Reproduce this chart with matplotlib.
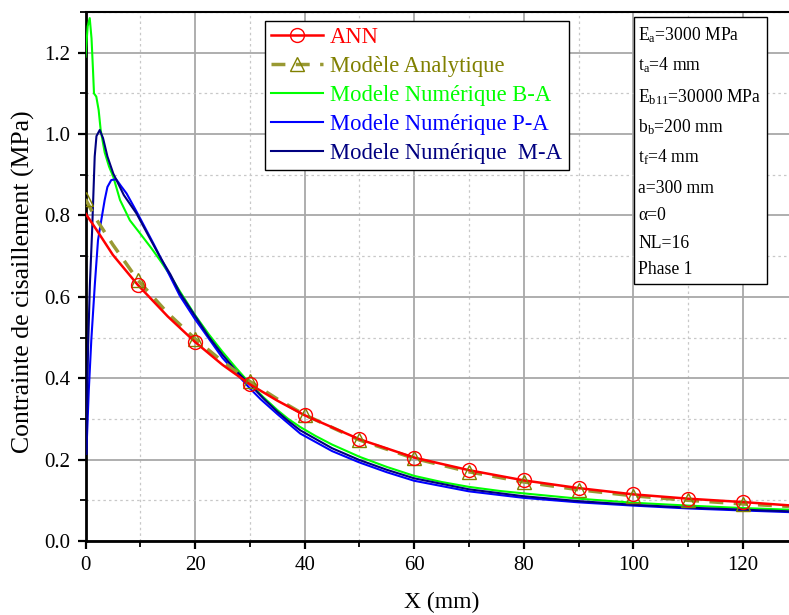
import matplotlib
matplotlib.use("Agg")
import matplotlib.pyplot as plt
from matplotlib.ticker import MultipleLocator, FormatStrFormatter
from matplotlib.lines import Line2D
from matplotlib.patches import Rectangle

plt.rcParams['font.family'] = ['Liberation Serif', 'DejaVu Serif']
plt.rcParams['mathtext.fontset'] = 'custom'
plt.rcParams['mathtext.rm'] = 'Liberation Serif'
plt.rcParams['mathtext.it'] = 'Liberation Serif:italic'

# ---- data -------------------------------------------------------------
ann_x = [0, 2, 5, 9.5, 15, 20, 25, 30, 35, 40, 50, 60, 70, 80, 90, 100, 110, 120, 128.4]
ann_y = [0.805, 0.765, 0.703, 0.630, 0.552, 0.489, 0.433, 0.385, 0.345, 0.309, 0.250,
         0.205, 0.174, 0.149, 0.130, 0.1146, 0.104, 0.0957, 0.0876]
ann_marker_x = [9.5, 20, 30, 40, 50, 60, 70, 80, 90, 100, 110, 120]

ana_x = [0, 2, 5, 9.5, 15, 20, 25, 30, 35, 40, 50, 60, 70, 80, 90, 100, 110, 120, 128.4]
ana_y = [0.84, 0.79, 0.728, 0.642, 0.560, 0.497, 0.441, 0.392, 0.349, 0.310, 0.248,
         0.203, 0.170, 0.145, 0.126, 0.111, 0.100, 0.091, 0.085]
ana_marker_x = [0, 9.5, 20, 30, 40, 50, 60, 70, 80, 90, 100, 110, 120]

ba_x = [0, 0.4, 0.77, 1.1, 1.37, 1.55, 1.97, 2.4, 2.77, 3.5, 4.3, 5.07, 6.3, 8.1, 9.95,
        12, 13.6, 15.5, 17.2, 20, 22.5, 25, 27.5, 30, 32.5, 35, 37, 39.2, 42, 45, 50,
        55, 60, 65, 70, 75.6, 80, 90, 100, 110, 120, 128.4]
ba_y = [1.19, 1.265, 1.285, 1.235, 1.157, 1.10, 1.092, 1.059, 1.01, 0.955, 0.92, 0.895,
        0.838, 0.788, 0.756, 0.72, 0.69, 0.652, 0.614, 0.555, 0.508, 0.465, 0.425, 0.387,
        0.353, 0.322, 0.300, 0.280, 0.258, 0.237, 0.207, 0.182, 0.160, 0.145, 0.133,
        0.123, 0.117, 0.104, 0.094, 0.087, 0.081, 0.077]

pa_x = [0.15, 0.6, 1.06, 1.7, 2.28, 2.9, 3.5, 4.0, 4.7, 5.6, 6.5, 7.5, 9.3, 12.4, 15,
        17.2, 20, 25, 30, 32, 35, 39.2, 45, 50, 55, 60, 70, 75.6, 80, 90, 100, 110,
        120, 128.4]
pa_y = [0.215, 0.37, 0.494, 0.63, 0.739, 0.79, 0.838, 0.87, 0.887, 0.889, 0.872, 0.854,
        0.81, 0.731, 0.662, 0.603, 0.545, 0.450, 0.375, 0.348, 0.312, 0.264, 0.221,
        0.193, 0.169, 0.148, 0.122, 0.113, 0.106, 0.095, 0.087, 0.080, 0.075, 0.071]

ma_x = [0.15, 0.46, 0.8, 1.2, 1.68, 2.0, 2.6, 3.2, 4.0, 5.07, 7, 9.3, 11.5, 13.6, 15.5,
        17.2, 20, 22.5, 25, 27.5, 30, 32.5, 35, 37, 39.2, 45, 50, 55, 60, 70, 80, 90,
        100, 110, 120, 128.4]
ma_y = [0.215, 0.47, 0.63, 0.76, 0.945, 0.995, 1.01, 0.99, 0.945, 0.903, 0.85, 0.805,
        0.75, 0.698, 0.655, 0.610, 0.553, 0.502, 0.458, 0.418, 0.385, 0.350, 0.318,
        0.295, 0.272, 0.228, 0.199, 0.175, 0.154, 0.127, 0.110, 0.098, 0.089, 0.082,
        0.077, 0.073]

labels = ["ANN", "Modèle Analytique", "Modele Numérique B-A",
          "Modele Numérique P-A", "Modele Numérique  M-A"]
params = ["E$_\\mathregular{a}$=3000 MPa", "t$_\\mathregular{a}$=4 mm",
          "E$_\\mathregular{b11}$=30000 MPa", "b$_\\mathregular{b}$=200 mm",
          "t$_\\mathregular{f}$=4 mm", "a=300 mm", "α=0", "NL=16", "Phase 1"]

# ---- styling ----------------------------------------------------------
c_ann = "#ff0000"
c_ana = "#999933"
c_ana_txt = "#808000"
c_ba = "#00ff00"
c_pa = "#0000ff"
c_ma = "#000080"

W, H = 789, 615
fig = plt.figure(figsize=(W / 100, H / 100), dpi=100)
ax = fig.add_axes([85.5 / W, 1 - 541 / H, 1 - 85.5 / W, (541 - 12) / H])

ax.plot(ba_x, ba_y, color=c_ba, lw=1.5, zorder=3)
ax.plot(pa_x, pa_y, color=c_pa, lw=1.5, zorder=3)
ax.plot(ma_x, ma_y, color=c_ma, lw=1.5, zorder=4)
ax.plot(ana_x, ana_y, color=c_ana, lw=2.5, ls=(0, (4, 3)), zorder=5)
ax.plot(ann_x, ann_y, color=c_ann, lw=1.8, zorder=6)

ana_my = [ana_y[ana_x.index(v)] for v in ana_marker_x]
ann_my = [ann_y[ann_x.index(v)] for v in ann_marker_x]
ax.plot(ana_marker_x, ana_my, ls='none', marker='^', ms=10, mfc='none',
        mec=c_ana_txt, mew=1.0, zorder=7)
ax.plot(ann_marker_x, ann_my, ls='none', marker='o', ms=10, mfc='none',
        mec=c_ann, mew=1.0, zorder=8)

ax.set_xlim(0, 128.4)
ax.set_ylim(0, 1.3)
ax.xaxis.set_major_locator(MultipleLocator(20))
ax.xaxis.set_minor_locator(MultipleLocator(10))
ax.yaxis.set_major_locator(MultipleLocator(0.2))
ax.yaxis.set_minor_locator(MultipleLocator(0.1))
ax.yaxis.set_major_formatter(FormatStrFormatter('%.1f'))

ax.grid(which='major', color='#a8a8a8', lw=1.3, ls='-', zorder=0)
ax.grid(which='minor', color='#c8c8c8', lw=0.9, ls=(0, (2, 2.5)), zorder=0)
ax.set_axisbelow(True)

ax.tick_params(which='major', direction='out', length=6, width=1.6,
               labelsize=15, pad=5, top=False, right=False)
ax.tick_params(which='minor', direction='out', length=4, width=1.3,
               top=False, right=False)
for s in ('left', 'bottom'):
    ax.spines[s].set_linewidth(2.0)
ax.spines['top'].set_linewidth(1.5)
ax.spines['right'].set_visible(False)

ax.set_xlabel("X (mm)", fontsize=17)
ax.set_ylabel("Contrainte de cisaillement (MPa)", fontsize=18.5)
ax.xaxis.set_label_coords(0.507, -0.097)
ax.yaxis.set_label_coords(-0.072, 0.49)

handles = [
    Line2D([], [], color=c_ann, lw=1.8, marker='o', ms=10, mfc='none', mec=c_ann, mew=1.0),
    Line2D([], [], color=c_ana, lw=2.5, ls=(0, (4, 3)), marker='^', ms=10, mfc='none',
           mec=c_ana_txt, mew=1.0),
    Line2D([], [], color=c_ba, lw=1.5),
    Line2D([], [], color=c_pa, lw=1.5),
    Line2D([], [], color=c_ma, lw=1.5),
]
leg = ax.legend(handles, labels, loc='upper left',
                bbox_to_anchor=((265 - 85.5) / (W - 85.5), (541 - 21) / 529),
                borderaxespad=0, fontsize=16.3, handlelength=2.3, handletextpad=0.3,
                labelspacing=0.35, borderpad=0.28, fancybox=False, framealpha=1,
                edgecolor='black', numpoints=1)
leg.get_frame().set_linewidth(1.0)
for t, c in zip(leg.get_texts(), [c_ann, c_ana_txt, c_ba, c_pa, c_ma]):
    t.set_color(c)
leg.set_zorder(20)

# parameter box
fig.patches.append(Rectangle((634 / W, 1 - 284 / H), (766.7 - 634) / W, (284 - 16.7) / H,
                             transform=fig.transFigure, facecolor='white',
                             edgecolor='black', lw=1.0, zorder=20))
ys = [35, 65, 96.7, 126.7, 156.7, 188.3, 215, 243.3, 270]
for txt, yp in zip(params, ys):
    fig.text(638.5 / W, 1 - yp / H, txt, fontsize=12.7, ha='left', va='center',
             zorder=21)

fig.savefig("out.png", dpi=100)
